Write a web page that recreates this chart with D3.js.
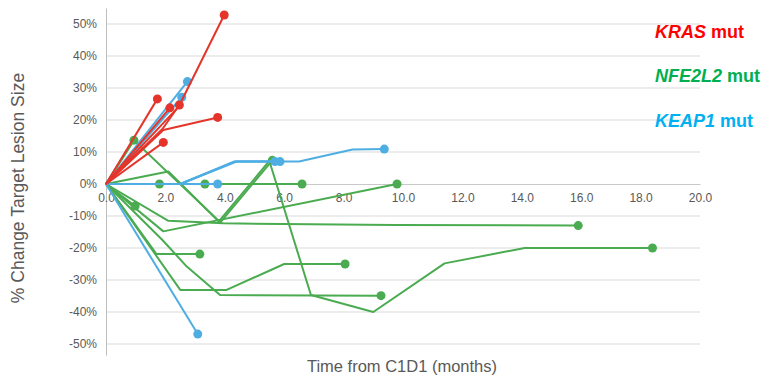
<!DOCTYPE html>
<html>
<head>
<meta charset="utf-8">
<script src="https://cdn.jsdelivr.net/npm/d3@7"></script>
<style>
  html, body { margin: 0; padding: 0; background: #fff; }
  svg { display: block; font-family: "Liberation Sans", Arial, sans-serif; }
</style>
</head>
<body>
<svg id="chart" width="767" height="375"></svg>
<script>
// Patient trajectories: [months from C1D1, % change in target lesion size]
const nfe2l2Series = [
  [[0, 0], [0.94, 13.7]],
  [[0, 0], [1.8, 0]],
  [[0, 0], [3.33, 0]],
  [[0, 0], [6.6, 0]],
  [[0, 0], [1.93, -14.8], [9.8, 0]],
  [[0, 0], [0.94, 13.7], [3.85, -12], [5.6, 7.4]],
  [[0, 0], [2.1, -11.5], [3.95, -12.3], [9.7, -12.8], [15.9, -13]],
  [[0, 0], [2.1, 3.9], [3.8, -11.7], [5.5, 7.2], [6.9, -34.7], [9.0, -40], [11.4, -24.8], [14.1, -20], [18.4, -20]],
  [[0, 0], [0.98, -6.9]],
  [[0, 0], [1.7, -21.9], [3.16, -21.9]],
  [[0, 0], [2.5, -33.1], [4.06, -33.1], [6.0, -25], [8.05, -25]],
  [[0, 0], [1.9, -17.5], [2.72, -25.8], [3.84, -34.7], [9.26, -34.9]]
];

const keap1Series = [
  [[0, 0], [2.74, 32]],
  [[0, 0], [2.55, 27.1]],
  [[0, 0], [2.5, 0], [4.3, 7], [5.69, 7]],
  [[0, 0], [2.5, 0], [4.35, 7], [5.86, 7]],
  [[0, 0], [2.5, 0], [4.4, 7], [6.5, 7], [8.3, 10.8], [9.37, 10.9]],
  [[0, 0], [3.76, 0]],
  [[0, 0], [3.09, -46.9]]
];

const krasSeries = [
  [[0, 0], [1.73, 26.6]],
  [[0, 0], [2.15, 23.8]],
  [[0, 0], [1.9, 17.2], [2.47, 24.7]],
  [[0, 0], [1.93, 16.9], [3.76, 20.8]],
  [[0, 0], [1.93, 13.0]],
  [[0, 0], [2.45, 24.2], [3.98, 52.8]]
];

const xTicks = [0, 2, 4, 6, 8, 10, 12, 14, 16, 18, 20];
const yTicks = [50, 40, 30, 20, 10, 0, -10, -20, -30, -40, -50];

const groups = [
  { name: "NFE2L2", series: nfe2l2Series, line: "#4aab50", legend: "#00b050" },
  { name: "KEAP1", series: keap1Series, line: "#4eaee3", legend: "#00b0f0" },
  { name: "KRAS", series: krasSeries, line: "#e5352b", legend: "#ff0000" }
];

const svg = d3.select("#chart");

const x = d3.scaleLinear().domain([0, 20]).range([106, 700]);
const y = d3.scaleLinear().domain([-53.5, 55]).range([355.2, 8]);

// Horizontal gridlines
svg.append("g")
  .selectAll("line")
  .data(yTicks.filter(t => t !== 0))
  .join("line")
  .attr("x1", x(0)).attr("x2", x(20))
  .attr("y1", d => y(d)).attr("y2", d => y(d))
  .attr("stroke", "#d9d9d9").attr("stroke-width", 1);

// Y axis (vertical line + percent labels)
const yAxis = d3.axisLeft(y)
  .tickValues(yTicks)
  .tickSize(0)
  .tickPadding(9)
  .tickFormat(d => d + "%");
const gy = svg.append("g").attr("transform", `translate(${x(0)},0)`).call(yAxis);
gy.select(".domain").attr("stroke", "#bfbfbf").attr("stroke-width", 1);
gy.selectAll("text").attr("fill", "#595959").style("font-size", "12px");

// X axis drawn along the 0% line
const xAxis = d3.axisBottom(x)
  .tickValues(xTicks)
  .tickSize(0)
  .tickPadding(9)
  .tickFormat(d3.format(".1f"));
const gx = svg.append("g").attr("transform", `translate(0,${y(0)})`).call(xAxis);
gx.select(".domain").attr("stroke", "#c8c8c8").attr("stroke-width", 1.2);
gx.selectAll("text").attr("fill", "#595959").style("font-size", "12px");

// Trajectories
const line = d3.line().x(d => x(d[0])).y(d => y(d[1]));
groups.forEach(g => {
  const layer = svg.append("g");
  layer.selectAll("path")
    .data(g.series)
    .join("path")
    .attr("d", line)
    .attr("fill", "none")
    .attr("stroke", g.line)
    .attr("stroke-width", 2)
    .attr("stroke-linejoin", "round");
  layer.selectAll("circle")
    .data(g.series)
    .join("circle")
    .attr("cx", d => x(d[d.length - 1][0]))
    .attr("cy", d => y(d[d.length - 1][1]))
    .attr("r", 4.5)
    .attr("fill", g.line);
});

// Axis titles
svg.append("text")
  .attr("transform", "translate(24,188) rotate(-90)")
  .attr("text-anchor", "middle")
  .attr("fill", "#595959")
  .style("font-size", "17.5px")
  .text("% Change Target Lesion Size");

svg.append("text")
  .attr("x", 402).attr("y", 372)
  .attr("text-anchor", "middle")
  .attr("fill", "#595959")
  .style("font-size", "16.5px")
  .text("Time from C1D1 (months)");

// Legend
const legendY = [38, 82, 127];
[groups[2], groups[0], groups[1]].forEach((g, i) => {
  const t = svg.append("text")
    .attr("x", 655).attr("y", legendY[i])
    .attr("fill", g.legend)
    .style("font-size", "18px")
    .style("font-weight", "bold");
  t.append("tspan").style("font-style", "italic").text(g.name);
  t.append("tspan").text(" mut");
});
</script>
</body>
</html>
